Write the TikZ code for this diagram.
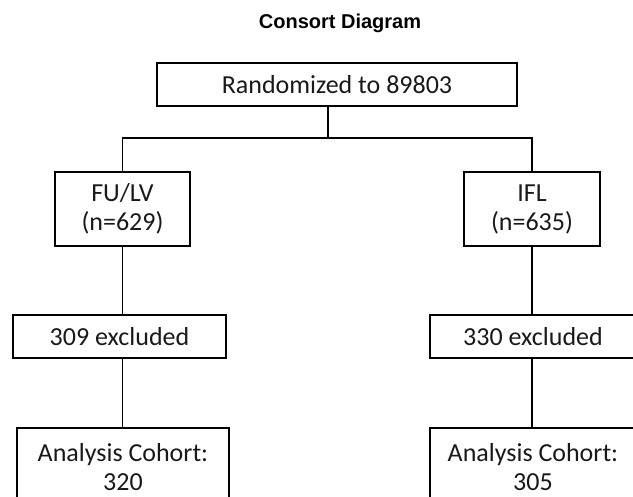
\documentclass[tikz,border=0pt]{standalone}
\usepackage{fontspec}
\setmainfont{Carlito}
\newfontfamily\titlefont{Liberation Sans}
\begin{document}
\begin{tikzpicture}[x=1pt,y=1pt,
  box/.style={draw=black, line width=1.5pt, rectangle, inner sep=0pt, align=center,
    font=\fontsize{26}{29}\selectfont, text=black!90},
  conn/.style={draw=black, line width=1.7pt}]
\useasboundingbox (0,0) rectangle (633,-497);
\clip (0,0) rectangle (633,-497);
\node[font=\titlefont\bfseries\fontsize{20}{24}\selectfont, anchor=base] (title) at (340,-29) {Consort Diagram};
\node[box, minimum width=360, minimum height=43] (top) at (337,-84.5) {Randomized to 89803};
\node[box, minimum width=135, minimum height=74] (fulv) at (122.5,-209) {FU/LV\\(n=629)};
\node[box, minimum width=136, minimum height=74] (ifl) at (532,-209) {IFL\\(n=635)};
\node[box, minimum width=213, minimum height=43] (exl) at (119.5,-336.5) {309 excluded};
\node[box, minimum width=206, minimum height=43] (exr) at (533,-336.5) {330 excluded};
\node[box, minimum width=212, minimum height=78] (anl) at (123,-467) {Analysis Cohort:\\320};
\node[box, minimum width=206, minimum height=78] (anr) at (533,-467) {Analysis Cohort:\\305};
\coordinate (split) at (328,-138);
\draw[conn] (split |- top.south) -- (split);
\draw[conn] (fulv.north) |- (split) -| (ifl.north);
\draw[conn] (fulv.south) -- (fulv.south |- exl.north);
\draw[conn] (ifl.south) -- (ifl.south |- exr.north);
\draw[conn] (exl.south -| fulv.south) -- (fulv.south |- anl.north);
\draw[conn] (exr.south -| ifl.south) -- (ifl.south |- anr.north);
\end{tikzpicture}
\end{document}
